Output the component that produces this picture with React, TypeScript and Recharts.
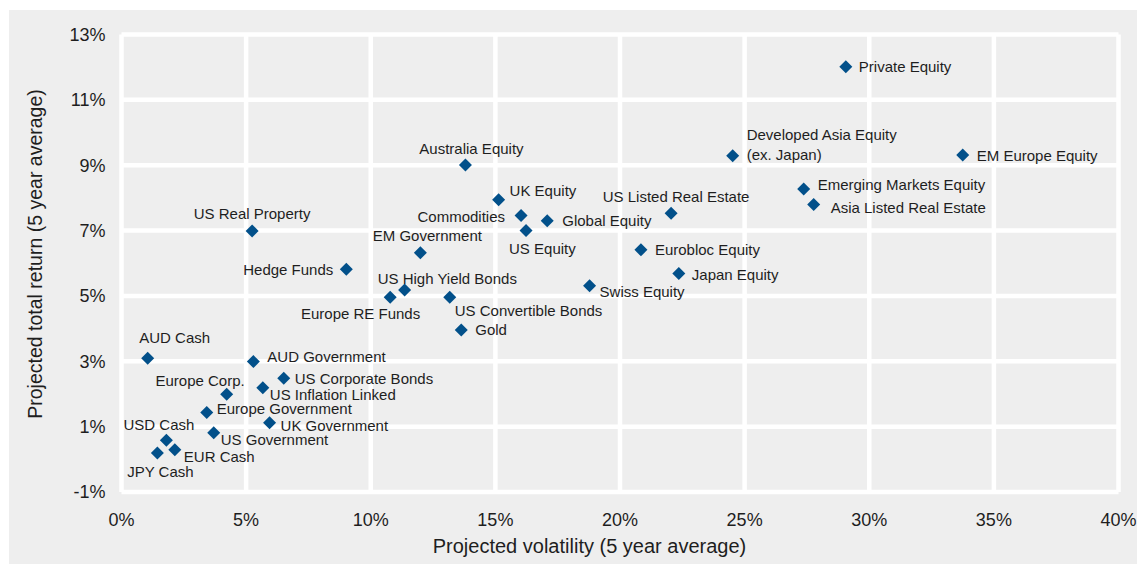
import React from "react";
import { ScatterChart, Scatter, XAxis, YAxis, CartesianGrid, Label } from "recharts";

const assetNames = [
  "Private Equity",
  "Developed Asia Equity\n(ex. Japan)",
  "EM Europe Equity",
  "Emerging Markets Equity",
  "Asia Listed Real Estate",
  "US Listed Real Estate",
  "Australia Equity",
  "UK Equity",
  "Commodities",
  "Global Equity",
  "US Equity",
  "EM Government",
  "Eurobloc Equity",
  "Japan Equity",
  "Hedge Funds",
  "US Real Property",
  "US High Yield Bonds",
  "Europe RE Funds",
  "US Convertible Bonds",
  "Swiss Equity",
  "Gold",
  "AUD Cash",
  "AUD Government",
  "US Corporate Bonds",
  "US Inflation Linked",
  "Europe Corp.",
  "Europe Government",
  "UK Government",
  "US Government",
  "USD Cash",
  "EUR Cash",
  "JPY Cash",
];

const volatility = [
  29.06, 24.52, 33.75, 27.37, 27.77, 22.05, 13.8, 15.13, 16.03, 17.08, 16.23, 11.99, 20.84, 22.36,
  9.02, 5.24, 11.36, 10.78, 13.17, 18.78, 13.63, 1.05, 5.29, 6.51, 5.67, 4.22, 3.42, 5.94, 3.7,
  1.8, 2.14, 1.44,
];

const totalReturn = [
  12.01, 9.29, 9.31, 8.27, 7.8, 7.53, 9.01, 7.94, 7.46, 7.3, 7.0, 6.32, 6.41, 5.69, 5.82, 6.99,
  5.18, 4.96, 4.96, 5.31, 3.96, 3.09, 2.99, 2.48, 2.19, 1.99, 1.43, 1.12, 0.81, 0.58, 0.29, 0.19,
];

const xTicks = [0, 5, 10, 15, 20, 25, 30, 35, 40];
const yTicks = [-1, 1, 3, 5, 7, 9, 11, 13];

const xTitle = "Projected volatility (5 year average)";
const yTitle = "Projected total return (5 year average)";

// label placement (style): text anchor and pixel offsets from the marker
const labelPlacement: Record<string, { anchor: "start" | "middle" | "end"; dx: number; dy: number }> = {
  "Private Equity": { anchor: "start", dx: 13, dy: 0 },
  "Developed Asia Equity\n(ex. Japan)": { anchor: "start", dx: 14, dy: -21 },
  "EM Europe Equity": { anchor: "start", dx: 14, dy: 0 },
  "Emerging Markets Equity": { anchor: "start", dx: 14, dy: -5 },
  "Asia Listed Real Estate": { anchor: "start", dx: 17, dy: 3 },
  "US Listed Real Estate": { anchor: "middle", dx: 5, dy: -17 },
  "Australia Equity": { anchor: "middle", dx: 6, dy: -16 },
  "UK Equity": { anchor: "start", dx: 11, dy: -9 },
  Commodities: { anchor: "end", dx: -16, dy: 1 },
  "Global Equity": { anchor: "start", dx: 15, dy: 0 },
  "US Equity": { anchor: "start", dx: -17, dy: 18 },
  "EM Government": { anchor: "middle", dx: 7, dy: -17 },
  "Eurobloc Equity": { anchor: "start", dx: 14, dy: 0 },
  "Japan Equity": { anchor: "start", dx: 13, dy: 1 },
  "Hedge Funds": { anchor: "end", dx: -13, dy: 0 },
  "US Real Property": { anchor: "middle", dx: 0, dy: -17 },
  "US High Yield Bonds": { anchor: "start", dx: -27, dy: -12 },
  "Europe RE Funds": { anchor: "end", dx: 30, dy: 16 },
  "US Convertible Bonds": { anchor: "start", dx: 5, dy: 13 },
  "Swiss Equity": { anchor: "start", dx: 10, dy: 6 },
  Gold: { anchor: "start", dx: 14, dy: 0 },
  "AUD Cash": { anchor: "middle", dx: 27, dy: -21 },
  "AUD Government": { anchor: "start", dx: 14, dy: -5 },
  "US Corporate Bonds": { anchor: "start", dx: 11, dy: 0 },
  "US Inflation Linked": { anchor: "start", dx: 7, dy: 7 },
  "Europe Corp.": { anchor: "end", dx: 18, dy: -14 },
  "Europe Government": { anchor: "start", dx: 10, dy: -4 },
  "UK Government": { anchor: "start", dx: 11, dy: 3 },
  "US Government": { anchor: "start", dx: 7, dy: 7 },
  "USD Cash": { anchor: "end", dx: 28, dy: -16 },
  "EUR Cash": { anchor: "start", dx: 9, dy: 7 },
  "JPY Cash": { anchor: "middle", dx: 3, dy: 18 },
};

const data = assetNames.map((name, i) => ({ name, vol: volatility[i], ret: totalReturn[i] }));

const MARKER = "#02508a";
const TEXT = "#1e1e1e";
const FONT = "'Liberation Sans', Arial, sans-serif";

const DiamondLabel = (props: any) => {
  const { cx, cy, payload } = props;
  if (cx == null || cy == null) return null;
  const r = 6.5;
  const p = labelPlacement[payload.name] || { anchor: "start", dx: 12, dy: 0 };
  const lines = String(payload.name).split("\n");
  return (
    <g>
      <polygon
        points={`${cx},${cy - r} ${cx + r},${cy} ${cx},${cy + r} ${cx - r},${cy}`}
        fill={MARKER}
      />
      {lines.map((ln, k) => (
        <text
          key={k}
          x={cx + p.dx}
          y={cy + p.dy + k * 20}
          textAnchor={p.anchor}
          dominantBaseline="central"
          fontSize={15}
          fontFamily={FONT}
          fill={TEXT}
        >
          {ln}
        </text>
      ))}
    </g>
  );
};

const XTitle = (props: any) => {
  const vb = props.viewBox || {};
  return (
    <text
      x={580.5}
      y={vb.y + 54}
      textAnchor="middle"
      dominantBaseline="central"
      fontSize={20}
      fontFamily={FONT}
      fill={TEXT}
    >
      {xTitle}
    </text>
  );
};

const YTitle = () => {
  const x = 26;
  const y = 244;
  return (
    <text
      x={x}
      y={y}
      transform={`rotate(-90 ${x} ${y})`}
      textAnchor="middle"
      dominantBaseline="central"
      fontSize={19.5}
      fontFamily={FONT}
      fill={TEXT}
    >
      {yTitle}
    </text>
  );
};

export default function App() {
  return (
    <div
      style={{
        position: "absolute",
        left: 9,
        top: 10,
        width: 1128,
        height: 554,
        background: "#eeeeee",
      }}
    >
      <ScatterChart
        width={1128}
        height={554}
        margin={{ top: 24.5, right: 18.5, bottom: 12, left: 12.5 }}
      >
        <CartesianGrid stroke="#ffffff" strokeWidth={4.5} fill="none" />
        <XAxis
          type="number"
          dataKey="vol"
          domain={[0, 40]}
          ticks={xTicks}
          interval={0}
          tickFormatter={(v: number) => `${v}%`}
          axisLine={false}
          tickLine={false}
          tickSize={0}
          tickMargin={21}
          height={60}
          tick={{ fontSize: 18, fontFamily: FONT, fill: TEXT }}
          label={<XTitle />}
        />
        <YAxis
          type="number"
          dataKey="ret"
          domain={[-1, 13]}
          ticks={yTicks}
          interval={0}
          tickFormatter={(v: number) => `${v}%`}
          axisLine={false}
          tickLine={false}
          tickSize={0}
          tickMargin={16}
          width={100}
          tick={{ fontSize: 18, fontFamily: FONT, fill: TEXT }}
          label={<YTitle />}
        />
        <Scatter data={data} isAnimationActive={false} shape={DiamondLabel} />
      </ScatterChart>
    </div>
  );
}
